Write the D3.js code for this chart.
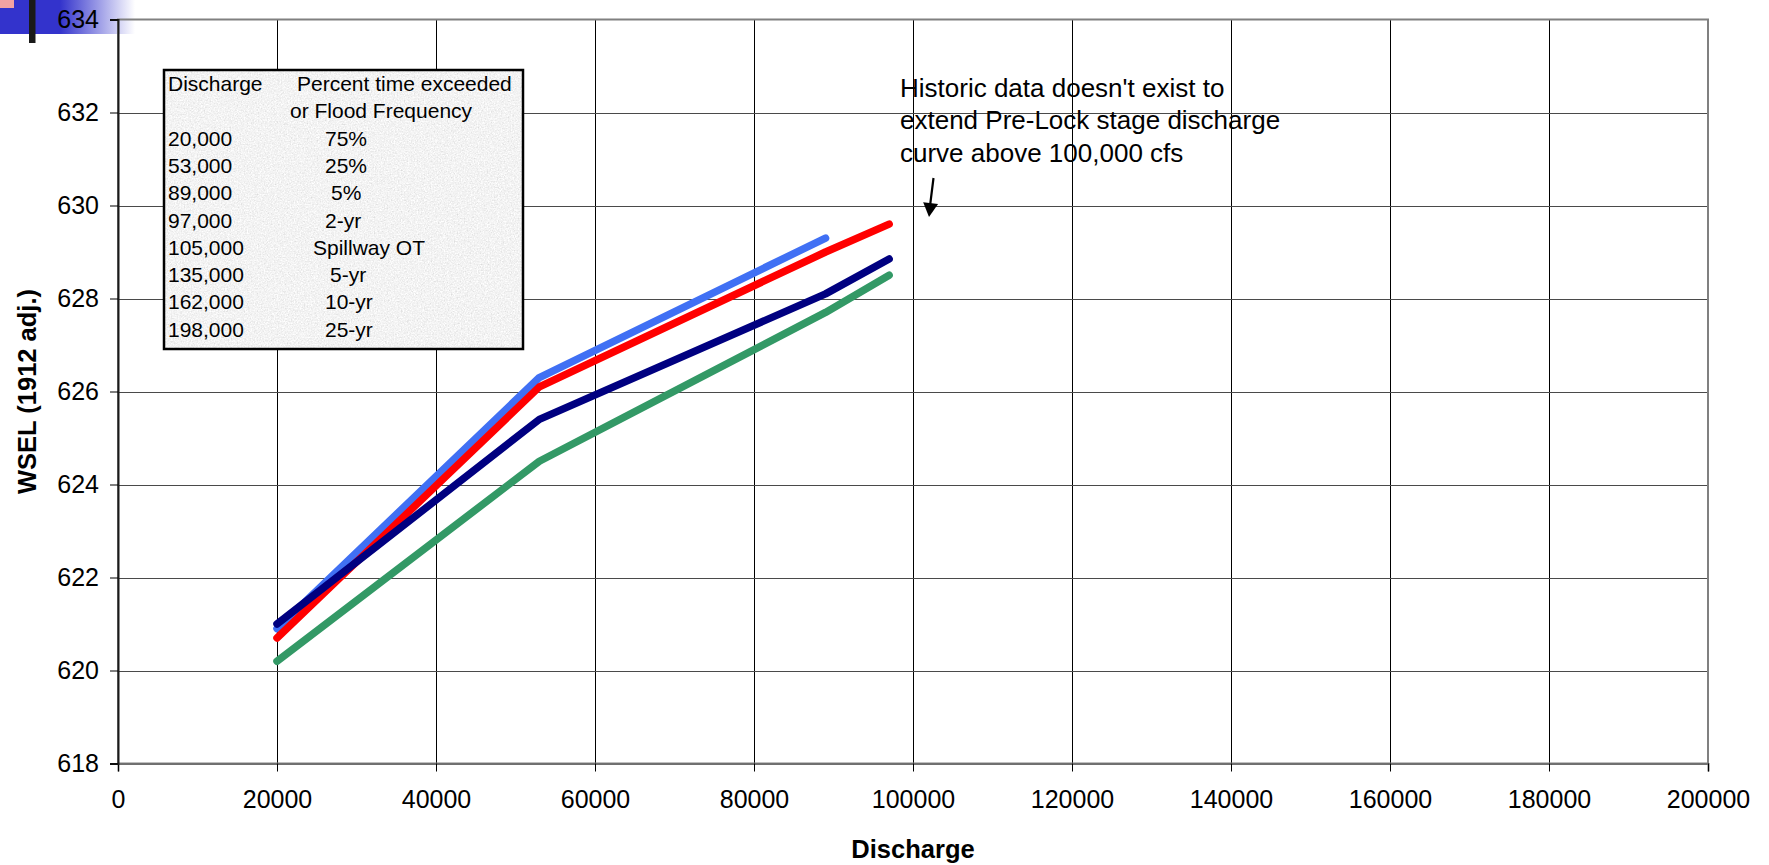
<!DOCTYPE html>
<html>
<head>
<meta charset="utf-8">
<script src="https://cdn.jsdelivr.net/npm/d3@7"></script>
<style>
  html, body { margin: 0; padding: 0; background: #fff; }
  svg { display: block; }
  text { font-family: "Liberation Sans", Arial, sans-serif; fill: #000; }
</style>
</head>
<body>
<div id="chart"></div>
<script>
// ---------------- data ----------------
const discharge = [20000, 53000, 89000, 97000];
const seriesLightBlue = [620.9, 626.3, 629.3];
const seriesRed = [620.7, 626.1, 629.0, 629.6];
const seriesNavy = [621.0, 625.4, 628.1, 628.85];
const seriesGreen = [620.2, 624.5, 627.7, 628.5];

const xTicks = [0, 20000, 40000, 60000, 80000, 100000, 120000, 140000, 160000, 180000, 200000];
const yTicks = [618, 620, 622, 624, 626, 628, 630, 632, 634];

const tableHeader = ["Discharge", "Percent time exceeded", "or Flood Frequency"];
const tableDischarge = ["20,000", "53,000", "89,000", "97,000", "105,000", "135,000", "162,000", "198,000"];
const tableFrequency = ["75%", "25%", "5%", "2-yr", "Spillway OT", "5-yr", "10-yr", "25-yr"];

const noteLines = ["Historic data doesn't exist to", "extend Pre-Lock stage discharge", "curve above 100,000 cfs"];
const xTitle = "Discharge";
const yTitle = "WSEL (1912 adj.)";

// ---------------- layout ----------------
const W = 1769, H = 865;
const plot = { left: 118, right: 1708, top: 19.5, bottom: 763.5 };

const svg = d3.select("#chart").append("svg").attr("width", W).attr("height", H);
const defs = svg.append("defs");

// decoration gradient (slide corner)
const grad = defs.append("linearGradient").attr("id", "cornerGrad")
  .attr("x1", "0").attr("x2", "1").attr("y1", "0").attr("y2", "0");
grad.append("stop").attr("offset", "0").attr("stop-color", "#3333cc");
grad.append("stop").attr("offset", "1").attr("stop-color", "#ffffff");

// granite texture for the table box
const filt = defs.append("filter").attr("id", "granite")
  .attr("x", 0).attr("y", 0).attr("width", "100%").attr("height", "100%");
filt.append("feTurbulence").attr("type", "fractalNoise").attr("baseFrequency", 0.7)
  .attr("numOctaves", 3).attr("seed", 7);
filt.append("feColorMatrix").attr("type", "matrix")
  .attr("values", "0.33 0.33 0.33 0 0  0.33 0.33 0.33 0 0  0.33 0.33 0.33 0 0  0 0 0 0 1");
const ct = filt.append("feComponentTransfer");
["feFuncR", "feFuncG", "feFuncB"].forEach(f => ct.append(f).attr("type", "linear").attr("slope", 0.7).attr("intercept", 0.55));
ct.append("feFuncA").attr("type", "linear").attr("slope", 0).attr("intercept", 1);

// corner decoration
const deco = svg.append("g");
deco.append("rect").attr("x", 0).attr("y", 0).attr("width", 62).attr("height", 34).attr("fill", "#3333cc");
deco.append("rect").attr("x", 60).attr("y", 0).attr("width", 75).attr("height", 34).attr("fill", "url(#cornerGrad)");
deco.append("rect").attr("x", 0).attr("y", 0).attr("width", 14).attr("height", 8).attr("fill", "#f3a3a3");
deco.append("rect").attr("x", 29).attr("y", 0).attr("width", 6.5).attr("height", 43).attr("fill", "#1a1a1a");

// scales
const x = d3.scaleLinear().domain([0, 200000]).range([plot.left, plot.right]);
const y = d3.scaleLinear().domain([618, 634]).range([plot.bottom, plot.top]);

// gridlines
const grid = svg.append("g");
grid.selectAll("line.v").data(xTicks.filter(d => d > 0 && d < 200000)).join("line")
  .attr("x1", d => Math.round(x(d)) + 0.5).attr("x2", d => Math.round(x(d)) + 0.5)
  .attr("y1", plot.top).attr("y2", plot.bottom)
  .attr("stroke", "#000").attr("stroke-width", 1);
grid.selectAll("line.h").data(yTicks.filter(d => d > 618 && d < 634)).join("line")
  .attr("x1", plot.left).attr("x2", plot.right)
  .attr("y1", d => Math.round(y(d)) + 0.5).attr("y2", d => Math.round(y(d)) + 0.5)
  .attr("stroke", "#4a4a4a").attr("stroke-width", 1.2);

// plot border
svg.append("rect").attr("x", plot.left).attr("y", plot.top)
  .attr("width", plot.right - plot.left).attr("height", plot.bottom - plot.top)
  .attr("fill", "none").attr("stroke", "#808080").attr("stroke-width", 2);

// axes
const xAxis = d3.axisBottom(x).tickValues(xTicks).tickFormat(d3.format("d")).tickSize(8).tickPadding(19);
const yAxis = d3.axisLeft(y).tickValues(yTicks).tickFormat(d3.format("d")).tickSize(8).tickPadding(11);

const gx = svg.append("g").attr("transform", `translate(0,${plot.bottom})`).call(xAxis);
gx.select(".domain").attr("stroke", "#707070").attr("stroke-width", 2);
gx.selectAll(".tick line").attr("stroke", "#000");
gx.selectAll(".tick text").attr("font-size", 25).attr("font-family", "Liberation Sans, Arial, sans-serif").attr("fill", "#000");

const gy = svg.append("g").attr("transform", `translate(${plot.left},0)`).call(yAxis);
gy.select(".domain").attr("stroke", "#1a1a1a").attr("stroke-width", 2);
gy.selectAll(".tick line").attr("stroke", "#000");
gy.selectAll(".tick text").attr("font-size", 25).attr("font-family", "Liberation Sans, Arial, sans-serif").attr("fill", "#000");

// axis titles
svg.append("text").attr("x", (plot.left + plot.right) / 2).attr("y", 858)
  .attr("text-anchor", "middle").attr("font-size", 25.5).attr("font-weight", "bold").text(xTitle);
svg.append("text").attr("transform", `translate(36,${(plot.top + plot.bottom) / 2}) rotate(-90)`)
  .attr("text-anchor", "middle").attr("font-size", 25.5).attr("font-weight", "bold").text(yTitle);

// series
const line = d3.line().x(d => x(d[0])).y(d => y(d[1]));
const series = [
  { values: seriesLightBlue, color: "#4070f4" },
  { values: seriesRed, color: "#ff0000" },
  { values: seriesNavy, color: "#000080" },
  { values: seriesGreen, color: "#339966" }
];
svg.append("g").selectAll("path").data(series).join("path")
  .attr("d", s => line(s.values.map((v, i) => [discharge[i], v])))
  .attr("fill", "none").attr("stroke", s => s.color).attr("stroke-width", 7.5)
  .attr("stroke-linecap", "round").attr("stroke-linejoin", "round");

// table box
const box = { x: 164, y: 70, w: 359, h: 279 };
svg.append("rect").attr("x", box.x).attr("y", box.y).attr("width", box.w).attr("height", box.h)
  .attr("fill", "#e8e8e8").attr("filter", "url(#granite)");
svg.append("rect").attr("x", box.x).attr("y", box.y).attr("width", box.w).attr("height", box.h)
  .attr("fill", "none").attr("stroke", "#000").attr("stroke-width", 2.5);

const tbl = svg.append("g").attr("font-size", 21);
const rowH = 27.3, row0 = 91;
tbl.append("text").attr("x", 168).attr("y", row0).text(tableHeader[0]);
tbl.append("text").attr("x", 297).attr("y", row0).text(tableHeader[1]);
tbl.append("text").attr("x", 290).attr("y", row0 + rowH).text(tableHeader[2]);
const freqIndent = [0, 0, 6, 0, -12, 5, 0, 0];
tableDischarge.forEach((d, i) => {
  tbl.append("text").attr("x", 168).attr("y", row0 + (i + 2) * rowH).text(d);
  tbl.append("text").attr("x", 325 + freqIndent[i]).attr("y", row0 + (i + 2) * rowH).text(tableFrequency[i]);
});

// annotation
const note = svg.append("g").attr("font-size", 26);
noteLines.forEach((t, i) => {
  note.append("text").attr("x", 900).attr("y", 97 + i * 32.3).text(t);
});
// arrow
const ax1 = 933.5, ay1 = 178, ax2 = 929, ay2 = 217;
svg.append("line").attr("x1", ax1).attr("y1", ay1).attr("x2", 930).attr("y2", 206)
  .attr("stroke", "#000").attr("stroke-width", 2.2);
const ang = Math.atan2(ay2 - ay1, ax2 - ax1);
const hl = 14, hw = 7.5;
const bx = ax2 - hl * Math.cos(ang), by = ay2 - hl * Math.sin(ang);
svg.append("path").attr("d",
  `M${ax2},${ay2} L${bx + hw * Math.sin(ang)},${by - hw * Math.cos(ang)} L${bx - hw * Math.sin(ang)},${by + hw * Math.cos(ang)} Z`)
  .attr("fill", "#000");
</script>
</body>
</html>
